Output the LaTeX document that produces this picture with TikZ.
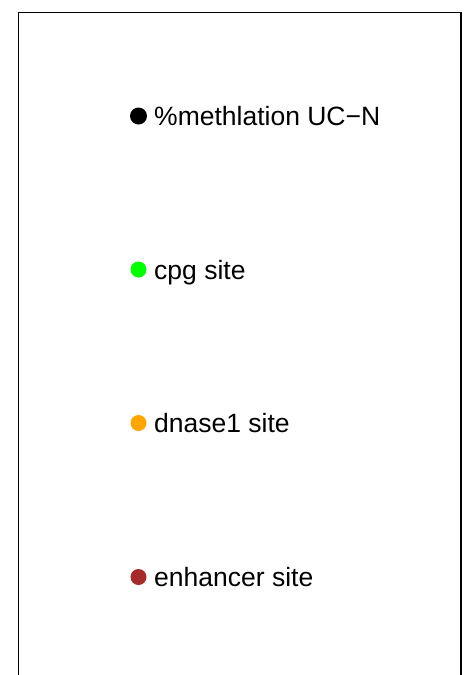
\documentclass[tikz,border=0pt]{standalone}
\usepackage{fontspec}
\setmainfont{Liberation Sans}
\definecolor{cpggreen}{RGB}{0,255,0}
\definecolor{dnaseorange}{RGB}{255,165,0}
\definecolor{enhbrown}{RGB}{165,42,42}
\begin{document}
\begin{tikzpicture}[x=1pt,y=-1pt,
  lab/.style={anchor=base west,inner sep=0pt,font=\fontsize{26.5}{29}\selectfont},
  dot/.style={circle,inner sep=0pt,minimum size=16pt}]
\useasboundingbox (0,0) rectangle (470,675);
\draw[line width=1.5pt] (18.5,680) -- (18.5,12.5) -- (461,12.5) -- (461,680);
\node[dot,fill=black,minimum size=17pt] (d1) at (138.5,116) {};
\node[lab] (t1) at (154,125) {\%methlation UC\char"2212 N};
\node[dot,fill=cpggreen] (d2) at (138.5,269.5) {};
\node[lab] (t2) at (154,279) {cpg site};
\node[dot,fill=dnaseorange] (d3) at (138.5,423) {};
\node[lab] (t3) at (154,432) {dnase1 site};
\node[dot,fill=enhbrown] (d4) at (138.5,577) {};
\node[lab] (t4) at (154,586.5) {enhancer site};
\end{tikzpicture}
\end{document}
